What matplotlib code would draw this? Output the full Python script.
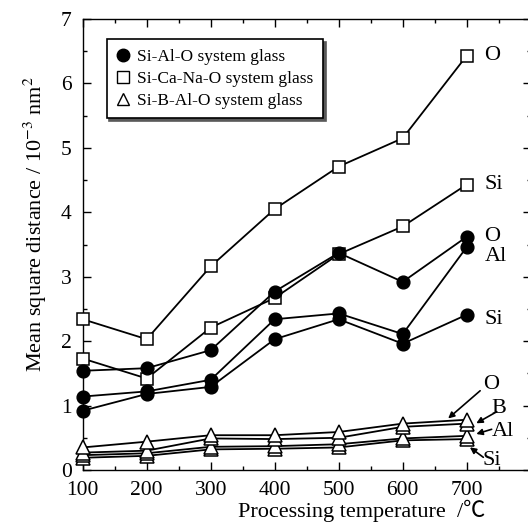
import matplotlib
matplotlib.use("Agg")
import matplotlib.pyplot as plt
from matplotlib.lines import Line2D

plt.rcParams['font.family'] = ['Liberation Serif', 'Noto Sans CJK JP', 'DejaVu Serif']
plt.rcParams['mathtext.fontset'] = 'stix'

# ---- data ----
temps = [100, 200, 300, 400, 500, 600, 700]

# Si-Ca-Na-O system glass (open squares)
sq_O = [2.34, 2.03, 3.16, 4.05, 4.71, 5.15, 6.43]
sq_Si = [1.73, 1.42, 2.21, 2.67, 3.35, 3.78, 4.43]

# Si-Al-O system glass (filled circles)
ci_O = [1.54, 1.58, 1.86, 2.77, 3.37, 2.92, 3.62]
ci_Al = [1.14, 1.22, 1.40, 2.34, 2.43, 2.11, 3.46]
ci_Si = [0.92, 1.18, 1.29, 2.03, 2.34, 1.96, 2.41]

# Si-B-Al-O system glass (open triangles)
tr_O = [0.35, 0.44, 0.54, 0.54, 0.59, 0.72, 0.78]
tr_B = [0.27, 0.30, 0.49, 0.48, 0.50, 0.67, 0.72]
tr_Al = [0.23, 0.26, 0.36, 0.37, 0.40, 0.49, 0.53]
tr_Si = [0.19, 0.22, 0.32, 0.33, 0.35, 0.46, 0.48]

legend_labels = ['Si-Al-O system glass', 'Si-Ca-Na-O system glass', 'Si-B-Al-O system glass']
xtick_vals = [100, 200, 300, 400, 500, 600, 700, 800]
xtick_labels = ['100', '200', '300', '400', '500', '600', '700', '']
ytick_vals = [0, 1, 2, 3, 4, 5, 6, 7]

W, H = 528, 524
fig = plt.figure(figsize=(W / 100, H / 100), dpi=100)
ax = fig.add_axes([82.7 / W, 54 / H, 448 / W, 451 / H])

lw = 1.3
common = dict(color='k', lw=lw, clip_on=False)

for ys in (tr_Si, tr_Al, tr_B, tr_O):
    ax.plot(temps, ys, marker='^', ms=9.5, mfc='white', mec='k', mew=1.1, zorder=3, **common)
for ys in (sq_Si, sq_O):
    ax.plot(temps, ys, marker='s', ms=9.0, mfc='white', mec='k', mew=1.1, zorder=3, **common)
for ys in (ci_Si, ci_Al, ci_O):
    ax.plot(temps, ys, marker='o', ms=9.2, mfc='k', mec='k', mew=1.0, zorder=4, **common)

ax.set_xlim(100, 800)
ax.set_ylim(0, 7)
ax.set_xticks(xtick_vals)
ax.set_xticklabels(xtick_labels)
ax.set_xticks(range(150, 800, 100), minor=True)
ax.set_yticks(ytick_vals)
ax.set_yticks([0.5 + i for i in range(7)], minor=True)
ax.tick_params(which='both', direction='in', top=True, right=True, width=1)
ax.tick_params(which='major', length=6)
ax.tick_params(which='minor', length=3)
ax.tick_params(axis='x', labelsize=15.5, pad=8)
ax.tick_params(axis='y', labelsize=15.5, pad=8)
for s in ax.spines.values():
    s.set_linewidth(1.0)

# labels
fig.text(35 / W, 1 - 224 / H, r'Mean square distance / 10$^{-3}$ nm$^{2}$',
         rotation=90, ha='center', va='center', fontsize=16)
fig.text(362 / W, 1 - 511 / H, 'Processing temperature  /℃',
         ha='center', va='center', fontsize=16)

# right side labels
fs = 16
ax.text(728, 6.43, 'O', ha='left', va='center', fontsize=fs)
ax.text(728, 4.43, 'Si', ha='left', va='center', fontsize=fs)
ax.text(728, 3.62, 'O', ha='left', va='center', fontsize=fs)
ax.text(728, 3.31, 'Al', ha='left', va='center', fontsize=fs)
ax.text(728, 2.33, 'Si', ha='left', va='center', fontsize=fs)
ax.text(725, 1.32, 'O', ha='left', va='center', fontsize=fs)
ax.text(739, 0.95, 'B', ha='left', va='center', fontsize=fs)
ax.text(739, 0.59, 'Al', ha='left', va='center', fontsize=fs)
ax.text(725, 0.155, 'Si', ha='left', va='center', fontsize=fs)

ap = dict(arrowstyle='-|>', lw=1.2, color='k', mutation_scale=9, shrinkA=0, shrinkB=0)
ax.annotate('', xy=(671, 0.80), xytext=(721, 1.23), arrowprops=ap, annotation_clip=False)
ax.annotate('', xy=(715, 0.725), xytext=(747, 0.905), arrowprops=ap, annotation_clip=False)
ax.annotate('', xy=(715, 0.559), xytext=(739, 0.632), arrowprops=ap, annotation_clip=False)
ax.annotate('', xy=(705, 0.352), xytext=(726, 0.197), arrowprops=ap, annotation_clip=False)

handles = [
    Line2D([], [], ls='none', marker='o', ms=9, mfc='k', mec='k'),
    Line2D([], [], ls='none', marker='s', ms=8.5, mfc='white', mec='k', mew=1.0),
    Line2D([], [], ls='none', marker='^', ms=9, mfc='white', mec='k', mew=1.0),
]
leg = ax.legend(handles, legend_labels, loc='upper left',
                bbox_to_anchor=(106.7 / W, 1 - 39.3 / H), bbox_transform=fig.transFigure,
                borderaxespad=0, fontsize=12.5, frameon=True, fancybox=False,
                edgecolor='k', framealpha=1, borderpad=0.55, labelspacing=0.33,
                handlelength=0.8, handletextpad=0.4,
                shadow={'color': '0.35', 'alpha': 1, 'ox': 2, 'oy': -2})
leg.get_frame().set_linewidth(1.2)

fig.savefig('out.png', dpi=100)
